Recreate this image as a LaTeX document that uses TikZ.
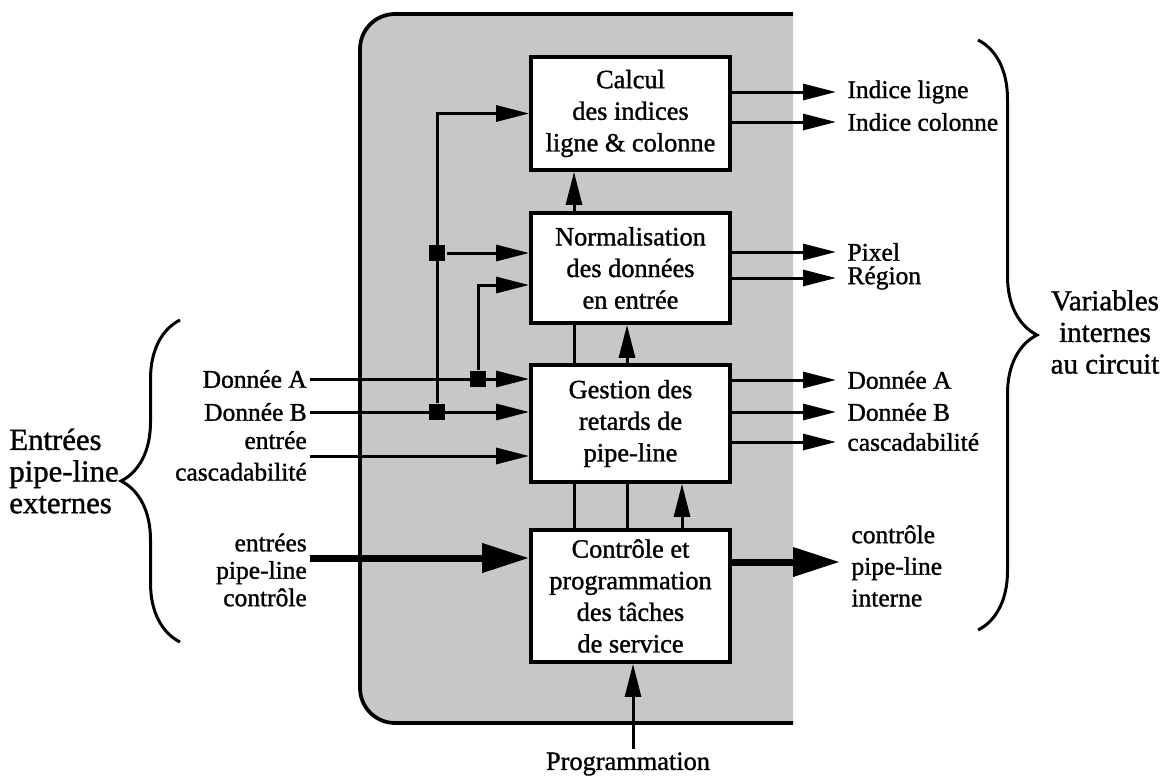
\documentclass[tikz,border=0pt]{standalone}
\usepackage{fontspec}
\setmainfont{Liberation Serif}[FakeBold=1.2]
\usetikzlibrary{arrows.meta,positioning,decorations.pathreplacing}

\begin{document}
\begin{tikzpicture}[x=0.02cm,y=-0.02cm,line width=0.06cm,
  blk/.style={draw,fill=white,line width=0.075cm,align=center,minimum width=3.98cm,font=\fontsize{15}{18}\selectfont},
  lab/.style={font=\fontsize{14.5}{18}\selectfont,inner sep=1pt},
  outlab/.style={lab,anchor=west,inner xsep=0.2cm},
  inlab/.style={lab,anchor=east,align=right},
  arr/.style={-{Triangle[length=0.66cm,width=0.32cm]}},
  bigarr/.style={line width=0.14cm,-{Triangle[length=0.94cm,width=0.56cm]}},
  junc/.style={fill=black,minimum size=0.32cm,inner sep=0pt},
  brc/.style={decorate,decoration={brace,amplitude=1.18cm}},
  grp/.style={align=center,font=\fontsize{17.5}{18}\selectfont}]
\useasboundingbox (0,0) rectangle (1174,775);
\fill[black!22,rounded corners=0.7cm] (793,14) -- (360,14) -- (360,723) -- (793,723);
\draw[line width=0.075cm,rounded corners=0.7cm] (793,14) -- (360,14) -- (360,723) -- (793,723);

\coordinate (c1) at (574,0);
\coordinate (c2) at (627,0);
\coordinate (c3) at (682,0);
\coordinate (cp) at (633,0);

\node[blk,minimum height=2.26cm] (calc) at (630.5,113.5) {Calcul\\des indices\\ligne \& colonne};
\node[blk,minimum height=2.2cm] (norm) at (630.5,268) {Normalisation\\des données\\en entrée};
\node[blk,minimum height=2.34cm] (gest) at (630.5,423.5) {Gestion des\\retards de\\pipe-line};
\node[blk,minimum height=2.64cm] (ctrl) at (630.5,596) {Contrôle et\\programmation\\des tâches\\de service};

\draw[arr] (norm.north -| c1) -- (calc.south -| c1);
\draw (gest.north -| c1) -- (norm.south -| c1);
\draw[arr] (gest.north -| c2) -- (norm.south -| c2);
\draw (ctrl.north -| c1) -- (gest.south -| c1);
\draw (ctrl.north -| c2) -- (gest.south -| c2);
\draw[arr] (ctrl.north -| c3) -- (gest.south -| c3);

\node[inlab] (dA) at (310,379) {Donnée A};
\node[inlab] (dB) at (310,412) {Donnée B};
\node[inlab] (casc) at (310,456) {entrée\\cascadabilité};
\node[inlab,font=\fontsize{14.5}{15.6}\selectfont] (pin) at (310,570) {entrées\\pipe-line\\contrôle};
\coordinate (pinE) at (310,558);

\draw[arr] (dA) -- (gest.west |- dA);
\draw[arr] (dB) -- (gest.west |- dB);
\draw[arr] (casc) -- (gest.west |- casc);
\draw[bigarr] (pinE) -- (ctrl.west |- pinE);

\node[junc] (jA) at (478,379) {};
\node[junc] (jB) at (437,412) {};
\node[junc] (jN) at (437,253) {};
\coordinate (nIn) at (478,285);
\draw[arr] (jB) |- (calc.west);
\draw[arr] (jN) -- (norm.west |- jN);
\draw[arr] (jA) |- (norm.west |- nIn);

\node[outlab] (oIL) at (836,92) {Indice ligne};
\node[outlab] (oIC) at (836,122) {Indice colonne};
\node[outlab] (oPx) at (836,252) {Pixel};
\node[outlab] (oRg) at (836,278) {Région};
\node[outlab] (oDA) at (836,380) {Donnée A};
\node[outlab] (oDB) at (836,412) {Donnée B};
\node[outlab] (oCs) at (836,442) {cascadabilité};
\node[outlab,align=left] (oCt) at (840,566) {contrôle\\pipe-line\\interne};
\coordinate (poutE) at (840,562);

\draw[arr] (calc.east |- oIL) -- (oIL);
\draw[arr] (calc.east |- oIC) -- (oIC);
\draw[arr] (norm.east |- oPx) -- (oPx);
\draw[arr] (norm.east |- oRg) -- (oRg);
\draw[arr] (gest.east |- oDA) -- (oDA);
\draw[arr] (gest.east |- oDB) -- (oDB);
\draw[arr] (gest.east |- oCs) -- (oCs);
\draw[bigarr] (ctrl.east |- poutE) -- (poutE);

\node[lab,font=\fontsize{15}{18}\selectfont] (prog) at (628,764) {Programmation};
\draw[arr] (prog.north -| cp) -- (ctrl.south -| cp);

\draw[brc] (180,642) -- (180,320);
\draw[brc] (978,40) -- (978,630);
\node[grp,align=left,anchor=west] (ext) at (2,471) {Entrées\\pipe-line\\externes};
\node[grp,font=\fontsize{16.5}{18}\selectfont] (var) at (1105,332) {Variables\\internes\\au circuit};
\end{tikzpicture}
\end{document}
